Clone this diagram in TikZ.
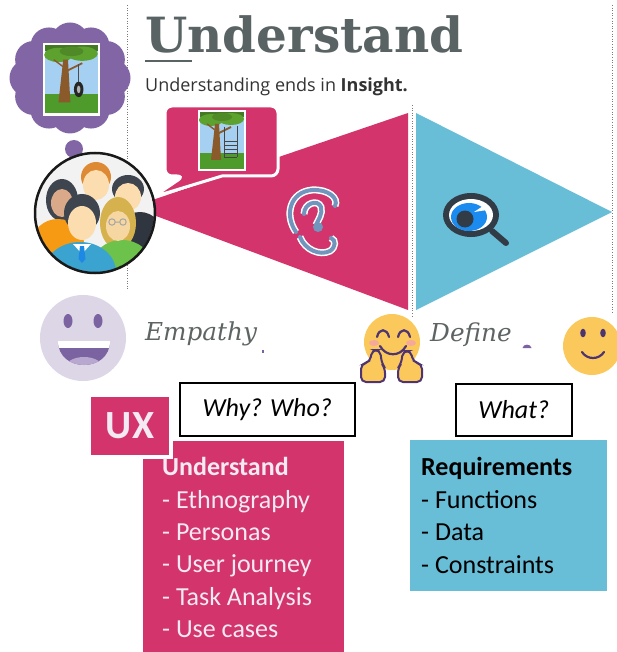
\documentclass[tikz,border=0pt]{standalone}
\usepackage{fontspec}
\setmainfont{Carlito}
\newfontfamily\titlefont{DejaVu Serif}
\newfontfamily\tagfont{Open Sans}
\usetikzlibrary{calc}

\definecolor{uxpink}{HTML}{D3346B}
\definecolor{defblue}{HTML}{68BDD7}
\definecolor{cloudpurple}{HTML}{8165A5}
\definecolor{titlegray}{HTML}{596363}
\definecolor{wordgray}{HTML}{5E6464}
\definecolor{lavender}{HTML}{DDD6E7}
\definecolor{facepurple}{HTML}{7B62A0}
\definecolor{tonguepurple}{HTML}{B8A8CF}
\definecolor{emojiyellow}{HTML}{FBC95B}
\definecolor{emojiline}{HTML}{4E3470}
\definecolor{cheekpink}{HTML}{F5A99B}
\definecolor{earblue}{HTML}{7195BD}
\definecolor{lensdark}{HTML}{323C47}
\definecolor{irisblue}{HTML}{1B8BEF}
\definecolor{sky}{HTML}{A5D0F2}
\definecolor{grass}{HTML}{4E9A2A}
\definecolor{leaf}{HTML}{5DA12F}
\definecolor{bark}{HTML}{8A5A2B}
\definecolor{dotgray}{HTML}{7A7A7A}
\definecolor{boxtext}{HTML}{F4EAF3}
\definecolor{skinA}{HTML}{D9A98A}
\definecolor{skinB}{HTML}{FCDDB0}
\definecolor{hairdark}{HTML}{3E454E}
\definecolor{hairorange}{HTML}{DE8A34}
\definecolor{hairblond}{HTML}{D6B24E}
\definecolor{shirtorange}{HTML}{F59A12}
\definecolor{shirtgreen}{HTML}{6CC24A}
\definecolor{shirtblue}{HTML}{3BA3CF}
\definecolor{shirtdark}{HTML}{2F3640}
\definecolor{tieblue}{HTML}{1E88E5}

\tikzset{
  guide/.style={dotgray, line width=0.9pt, dash pattern=on 1pt off 1.6pt},
  lbl/.style={inner sep=0pt, anchor=base west},
  listtext/.style={lbl, font=\fontsize{26}{26}\selectfont},
  questionbox/.style={draw=black, line width=1.6pt, fill=white, inner sep=0pt,
    anchor=north west, font=\itshape\fontsize{26}{26}\selectfont},
  stagebox/.style={inner sep=0pt, anchor=north west},
  phase/.style={lbl, text=wordgray, font=\titlefont\itshape\fontsize{24.7}{25}\selectfont},
  emojistroke/.style={emojiline, line width=2.2pt, line cap=round},
  earstroke/.style={line width=4pt, line cap=round, draw=earblue,
    preaction={draw=white, line width=7pt}},
  treeframe/.pic={
    \fill[white] (0,0) rectangle (48,61);
    \fill[sky] (2,2) rectangle (46,59);
    \fill[grass] (2,43) rectangle (46,59);
    \fill[leaf!75!black] (2,2) rectangle (46,7);
    \fill[leaf] (13,10) ellipse [x radius=12, y radius=6];
    \fill[leaf] (33,9) ellipse [x radius=13, y radius=6];
    \fill[leaf!85!black] (24,7) ellipse [x radius=10, y radius=4];
    \fill[bark] (13,50) -- (17,14) -- (21,14) -- (23,50) -- cycle;
    \draw[bark, line width=1.8pt] (19,24) -- (33,17);
    \draw[bark, line width=1.4pt] (17,20) -- (9,14);
  },
  tireswing/.pic={
    \draw[black!70, line width=0.7pt] (30,18) -- (30,33);
    \fill[black!85] (30,39) ellipse [x radius=4, y radius=6.5];
    \fill[gray!60] (30,39) ellipse [x radius=1.5, y radius=3.2];
  },
  ladderswing/.pic={
    \draw[gray!55!black, line width=0.6pt] (26,17) -- (26,47) (39,16) -- (39,47);
    \foreach \r in {31,35,39,43,47}
      \draw[gray!55!black, line width=0.6pt] (26,\r) -- (39,\r);
  },
}

\begin{document}
\begin{tikzpicture}[x=1pt, y=-1pt]
\useasboundingbox (0,0) rectangle (617,652);
\fill[white] (0,0) rectangle (617,652);

% ---------- dotted guide lines ----------
\coordinate (gl1) at (127,5);   \coordinate (gl2) at (127,290);
\coordinate (gm1) at (412,105); \coordinate (gm2) at (412,318);
\coordinate (gr1) at (612,5);   \coordinate (gr2) at (612,312);
\draw[guide] (gl1) -- (gl2);
\draw[guide] (gm1) -- (gm2);
\draw[guide] (gr1) -- (gr2);

% ---------- heading ----------
\node[lbl, text=titlegray, font=\titlefont\bfseries\fontsize{48.5}{48.5}\selectfont]
  (title) at (145,53) {Understand};
\draw[titlegray, line width=2pt] ($(title.base west)+(0,8)$) -- +(47,0);
\node[lbl, text=black!80, font=\tagfont\fontsize{18}{18}\selectfont]
  (tagline) at (145,92) {Understanding ends in \textbf{Insight.}};

% ---------- the two phase triangles ----------
\fill[uxpink] (132,207) -- (408,113) -- (408,310) -- cycle;
\fill[defblue] (416,113) -- (612,212) -- (416,310) -- cycle;

% ---------- speech bubble ----------
\filldraw[fill=uxpink, draw=white, line width=3pt]
  (222,176) [rounded corners=7pt] -- (278,176) -- (278,106) -- (165,106)
  -- (165,176) -- (184,176) [sharp corners] -- (153,197) -- cycle;
\pic at (198,110) {treeframe};
\pic at (198,110) {ladderswing};

% ---------- thought cloud ----------
\fill[cloudpurple] (70,78) ellipse [x radius=44, y radius=38];
\foreach \a in {0,30,...,330}
  \fill[cloudpurple] ($(70,78)+(\a:42 and 37)$) circle (18.5);
\fill[cloudpurple] (74,149) circle (9);
\fill[cloudpurple] (76,168) circle (5.5);
\fill[cloudpurple] (76,180) circle (3);
\pic[scale=1.19] at (43,43) {treeframe};
\pic[scale=1.19] at (43,43) {tireswing};

% ---------- group of people ----------
\begin{scope}
  \clip (95,213) circle (59);
  \fill[gray!10] (95,213) circle (59);
  % left woman
  \fill[hairdark] (62,200) ellipse [x radius=16, y radius=21];
  \fill[skinA] (62,203) ellipse [x radius=11, y radius=14];
  \fill[shirtorange] (58,243) ellipse [x radius=26, y radius=24];
  % top man
  \fill[hairorange] (96,177) ellipse [x radius=15, y radius=15];
  \fill[skinB] (96,185) ellipse [x radius=13, y radius=15];
  % right man
  \fill[shirtdark] (140,238) ellipse [x radius=24, y radius=26];
  \fill[hairdark] (128,189) ellipse [x radius=16, y radius=14];
  \fill[skinB] (128,197) ellipse [x radius=13, y radius=14];
  % blonde woman with glasses
  \fill[hairblond] (118,223) ellipse [x radius=18, y radius=26];
  \fill[shirtgreen] (122,266) ellipse [x radius=30, y radius=26];
  \fill[skinB!85!hairblond] (118,226) ellipse [x radius=12, y radius=15];
  \draw[gray!70, line width=1pt] (112,222) circle (3.2) (123,222) circle (3.2)
    (115.2,222) -- (119.8,222);
  % front man with tie
  \fill[shirtblue] (80,272) ellipse [x radius=36, y radius=30];
  \fill[white] (73,244) -- (91,244) -- (82,254) -- cycle;
  \fill[tieblue] (80,246) -- (84,246) -- (85.5,259) -- (82,263) -- (78.5,259) -- cycle;
  \fill[hairdark] (82,213) ellipse [x radius=18, y radius=19];
  \fill[skinB] (82,223) ellipse [x radius=14, y radius=17];
\end{scope}
\draw[black!90, line width=2.5pt] (95,213) circle (60);

% ---------- ear icon ----------
\draw[earstroke] (296,232) .. controls (284,215) and (290,192) .. (312,190)
  .. controls (328,189) and (339,198) .. (335,206);
\draw[earstroke] (304,214) .. controls (304,203) and (318,199) .. (321,207)
  .. controls (323,214) and (318,220) .. (316,225);
\fill[earblue] (318,227) circle (5);
\draw[earstroke] (300,237) .. controls (305,250) and (320,256) .. (330,251)
  .. controls (336,247) and (336,240) .. (331,238);

% ---------- eye magnifier icon ----------
\draw[lensdark, line width=6pt, line cap=round] (492,231) -- (506,243);
\fill[lensdark] (471,215) ellipse [x radius=28, y radius=22];
\fill[white] (471,215) ellipse [x radius=22, y radius=16];
\fill[irisblue] (469,217) ellipse [x radius=18, y radius=14];
\fill[lensdark] (465,219) circle (8.5);
\fill[white] (474,212) -- (486,204) -- (487,210) -- cycle;

% ---------- phase faces and words ----------
\fill[lavender] (83,338) circle (43);
\fill[facepurple] (68,321) ellipse [x radius=4.5, y radius=7];
\fill[facepurple] (98,321) ellipse [x radius=4.5, y radius=7];
\begin{scope}
  \path[clip] (58,341) -- (110,341) .. controls (110,373) and (58,373) .. (58,341) -- cycle;
  \fill[facepurple] (56,339) rectangle (112,370);
  \fill[white] (56,341) rectangle (112,348);
  \fill[tonguepurple] (84,368) ellipse [x radius=19, y radius=11];
\end{scope}
\node[phase] (empathy) at (145,340) {Empathy};
\fill[facepurple] (262,353) rectangle (264,350);

% hugging face
\fill[emojiyellow] (392,342) circle (28);
\fill[cheekpink] (374,343) ellipse [x radius=5, y radius=3];
\fill[cheekpink] (411,343) ellipse [x radius=5, y radius=3];
\draw[emojistroke] (377,337) .. controls (379,328) and (387,328) .. (389,337);
\draw[emojistroke] (398,337) .. controls (400,328) and (408,328) .. (410,337);
\draw[emojistroke] (380,346) .. controls (386,357) and (400,357) .. (406,346);
\filldraw[fill=emojiyellow, draw=emojiline, line width=2pt, rounded corners=5pt]
  (361,382) -- (361,364) -- (370,362) -- (372,350) -- (380,350) -- (382,364)
  -- (385,368) -- (385,382) -- cycle;
\filldraw[fill=emojiyellow, draw=emojiline, line width=2pt, rounded corners=5pt]
  (422,382) -- (422,364) -- (413,362) -- (411,351) -- (403,351) -- (401,364)
  -- (398,368) -- (398,382) -- cycle;
\node[phase] (define) at (430,341) {Define};
\fill[facepurple] (522.5,348) .. controls (523,343.5) and (531,343.5) .. (531.5,348) -- cycle;

% smiling face
\fill[emojiyellow] (592,346) circle (29);
\fill[emojiline] (583,333) ellipse [x radius=2.8, y radius=4.3];
\fill[emojiline] (603,333) ellipse [x radius=2.8, y radius=4.3];
\draw[emojistroke] (582,352) .. controls (587,360) and (599,360) .. (604,352);

% ---------- question boxes ----------
\node[questionbox, minimum width=175pt, minimum height=53pt] (why) at (179,382) {Why? Who?};
\node[questionbox, minimum width=116pt, minimum height=52pt] (what) at (455,383) {What?};

% ---------- stage boxes ----------
\node[stagebox, fill=uxpink, minimum width=201pt, minimum height=212pt] (uxlist) at (143,441) {};
\node[stagebox, fill=defblue, minimum width=197pt, minimum height=151pt] (reqlist) at (410,440) {};
\node[stagebox, fill=uxpink, draw=white, line width=4pt, minimum width=82pt,
  minimum height=62pt, text=boxtext, font=\bfseries\fontsize{40}{40}\selectfont]
  (ux) at (87,393) {UX};

\foreach \t [count=\i from 0] in {- Ethnography, - Personas, - User journey, - Task Analysis, - Use cases}
  \node[listtext, text=boxtext] (ul\i) at ($(uxlist.north west)+(19,67+32.4*\i)$) {\t};
\node[listtext, text=boxtext, font=\bfseries\fontsize{26}{26}\selectfont]
  (ulhead) at ($(uxlist.north west)+(19,34)$) {Understand};

\node[listtext, font=\bfseries\fontsize{26}{26}\selectfont]
  (rlhead) at ($(reqlist.north west)+(11,35)$) {Requirements};
\foreach \t [count=\i from 0] in {- Functions, - Data, - Constraints}
  \node[listtext] (rl\i) at ($(reqlist.north west)+(11,68+32.6*\i)$) {\t};
\end{tikzpicture}
\end{document}
